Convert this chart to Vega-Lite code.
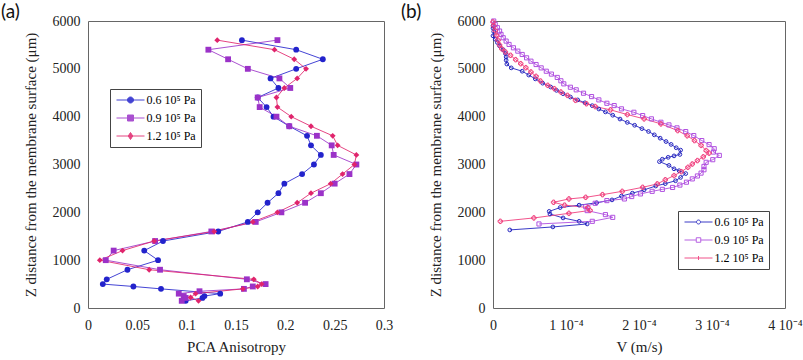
{
"$schema": "https://vega.github.io/schema/vega-lite/v6.json",
"padding": {"left": 0, "top": 2, "right": 0, "bottom": 0},
"background": "white",
"config": {
  "font": "Times New Roman, Liberation Serif, serif",
  "view": {"stroke": "#666", "strokeWidth": 1},
  "axis": {"grid": false, "domain": false, "tickSize": 0, "tickColor": "#555", "tickWidth": 1, "labelFont": "Times New Roman, Liberation Serif, serif", "labelFontSize": 14, "labelColor": "#222", "titleFont": "Times New Roman, Liberation Serif, serif", "titleFontSize": 15, "titleFontWeight": "normal", "titleColor": "#222", "labelFlush": false, "labelOverlap": false, "labelPadding": 10},
  "legend": {"labelFont": "Times New Roman, Liberation Serif, serif"},
  "title": {"font": "Lato", "fontSize": 19, "fontWeight": "normal", "color": "#111", "anchor": "start", "frame": "group"}
},
"datasets": {
"a": [
{"s":"0.6 10⁵ Pa","i":1,"x":0.156,"z":5600},{"s":"0.6 10⁵ Pa","i":2,"x":0.211,"z":5400},{"s":"0.6 10⁵ Pa","i":3,"x":0.238,"z":5200},{"s":"0.6 10⁵ Pa","i":4,"x":0.211,"z":5000},{"s":"0.6 10⁵ Pa","i":5,"x":0.185,"z":4800},{"s":"0.6 10⁵ Pa","i":6,"x":0.193,"z":4600},{"s":"0.6 10⁵ Pa","i":7,"x":0.172,"z":4400},{"s":"0.6 10⁵ Pa","i":8,"x":0.181,"z":4200},{"s":"0.6 10⁵ Pa","i":9,"x":0.188,"z":4000},{"s":"0.6 10⁵ Pa","i":10,"x":0.204,"z":3800},{"s":"0.6 10⁵ Pa","i":11,"x":0.222,"z":3600},{"s":"0.6 10⁵ Pa","i":12,"x":0.226,"z":3400},{"s":"0.6 10⁵ Pa","i":13,"x":0.236,"z":3200},{"s":"0.6 10⁵ Pa","i":14,"x":0.229,"z":3000},{"s":"0.6 10⁵ Pa","i":15,"x":0.217,"z":2800},{"s":"0.6 10⁵ Pa","i":16,"x":0.199,"z":2600},{"s":"0.6 10⁵ Pa","i":17,"x":0.193,"z":2400},{"s":"0.6 10⁵ Pa","i":18,"x":0.182,"z":2200},{"s":"0.6 10⁵ Pa","i":19,"x":0.172,"z":2000},{"s":"0.6 10⁵ Pa","i":20,"x":0.162,"z":1800},{"s":"0.6 10⁵ Pa","i":21,"x":0.132,"z":1600},{"s":"0.6 10⁵ Pa","i":22,"x":0.076,"z":1400},{"s":"0.6 10⁵ Pa","i":23,"x":0.057,"z":1200},{"s":"0.6 10⁵ Pa","i":24,"x":0.071,"z":1000},{"s":"0.6 10⁵ Pa","i":25,"x":0.040,"z":800},{"s":"0.6 10⁵ Pa","i":26,"x":0.019,"z":600},{"s":"0.6 10⁵ Pa","i":27,"x":0.015,"z":500},{"s":"0.6 10⁵ Pa","i":28,"x":0.046,"z":450},{"s":"0.6 10⁵ Pa","i":29,"x":0.074,"z":400},{"s":"0.6 10⁵ Pa","i":30,"x":0.134,"z":300},{"s":"0.6 10⁵ Pa","i":31,"x":0.118,"z":250},{"s":"0.6 10⁵ Pa","i":32,"x":0.116,"z":210},{"s":"0.6 10⁵ Pa","i":33,"x":0.099,"z":150},
{"s":"0.9 10⁵ Pa","i":1,"x":0.192,"z":5600},{"s":"0.9 10⁵ Pa","i":2,"x":0.122,"z":5400},{"s":"0.9 10⁵ Pa","i":3,"x":0.142,"z":5200},{"s":"0.9 10⁵ Pa","i":4,"x":0.162,"z":5000},{"s":"0.9 10⁵ Pa","i":5,"x":0.194,"z":4800},{"s":"0.9 10⁵ Pa","i":6,"x":0.205,"z":4600},{"s":"0.9 10⁵ Pa","i":7,"x":0.172,"z":4400},{"s":"0.9 10⁵ Pa","i":8,"x":0.174,"z":4200},{"s":"0.9 10⁵ Pa","i":9,"x":0.191,"z":4000},{"s":"0.9 10⁵ Pa","i":10,"x":0.204,"z":3800},{"s":"0.9 10⁵ Pa","i":11,"x":0.232,"z":3600},{"s":"0.9 10⁵ Pa","i":12,"x":0.247,"z":3400},{"s":"0.9 10⁵ Pa","i":13,"x":0.249,"z":3200},{"s":"0.9 10⁵ Pa","i":14,"x":0.272,"z":3000},{"s":"0.9 10⁵ Pa","i":15,"x":0.265,"z":2800},{"s":"0.9 10⁵ Pa","i":16,"x":0.250,"z":2600},{"s":"0.9 10⁵ Pa","i":17,"x":0.236,"z":2400},{"s":"0.9 10⁵ Pa","i":18,"x":0.220,"z":2200},{"s":"0.9 10⁵ Pa","i":19,"x":0.196,"z":2000},{"s":"0.9 10⁵ Pa","i":20,"x":0.170,"z":1800},{"s":"0.9 10⁵ Pa","i":21,"x":0.125,"z":1600},{"s":"0.9 10⁵ Pa","i":22,"x":0.068,"z":1400},{"s":"0.9 10⁵ Pa","i":23,"x":0.026,"z":1200},{"s":"0.9 10⁵ Pa","i":24,"x":0.018,"z":1000},{"s":"0.9 10⁵ Pa","i":25,"x":0.073,"z":800},{"s":"0.9 10⁵ Pa","i":26,"x":0.161,"z":600},{"s":"0.9 10⁵ Pa","i":27,"x":0.180,"z":500},{"s":"0.9 10⁵ Pa","i":28,"x":0.167,"z":450},{"s":"0.9 10⁵ Pa","i":29,"x":0.158,"z":400},{"s":"0.9 10⁵ Pa","i":30,"x":0.113,"z":350},{"s":"0.9 10⁵ Pa","i":31,"x":0.092,"z":300},{"s":"0.9 10⁵ Pa","i":32,"x":0.097,"z":250},{"s":"0.9 10⁵ Pa","i":33,"x":0.099,"z":210},{"s":"0.9 10⁵ Pa","i":34,"x":0.095,"z":150},
{"s":"1.2 10⁵ Pa","i":1,"x":0.131,"z":5600},{"s":"1.2 10⁵ Pa","i":2,"x":0.189,"z":5400},{"s":"1.2 10⁵ Pa","i":3,"x":0.209,"z":5200},{"s":"1.2 10⁵ Pa","i":4,"x":0.221,"z":5000},{"s":"1.2 10⁵ Pa","i":5,"x":0.212,"z":4800},{"s":"1.2 10⁵ Pa","i":6,"x":0.199,"z":4600},{"s":"1.2 10⁵ Pa","i":7,"x":0.191,"z":4400},{"s":"1.2 10⁵ Pa","i":8,"x":0.192,"z":4200},{"s":"1.2 10⁵ Pa","i":9,"x":0.206,"z":4000},{"s":"1.2 10⁵ Pa","i":10,"x":0.226,"z":3800},{"s":"1.2 10⁵ Pa","i":11,"x":0.248,"z":3600},{"s":"1.2 10⁵ Pa","i":12,"x":0.253,"z":3400},{"s":"1.2 10⁵ Pa","i":13,"x":0.272,"z":3200},{"s":"1.2 10⁵ Pa","i":14,"x":0.270,"z":3000},{"s":"1.2 10⁵ Pa","i":15,"x":0.258,"z":2800},{"s":"1.2 10⁵ Pa","i":16,"x":0.246,"z":2600},{"s":"1.2 10⁵ Pa","i":17,"x":0.226,"z":2400},{"s":"1.2 10⁵ Pa","i":18,"x":0.212,"z":2200},{"s":"1.2 10⁵ Pa","i":19,"x":0.192,"z":2000},{"s":"1.2 10⁵ Pa","i":20,"x":0.167,"z":1800},{"s":"1.2 10⁵ Pa","i":21,"x":0.128,"z":1600},{"s":"1.2 10⁵ Pa","i":22,"x":0.067,"z":1400},{"s":"1.2 10⁵ Pa","i":23,"x":0.035,"z":1200},{"s":"1.2 10⁵ Pa","i":24,"x":0.012,"z":1000},{"s":"1.2 10⁵ Pa","i":25,"x":0.062,"z":800},{"s":"1.2 10⁵ Pa","i":26,"x":0.168,"z":600},{"s":"1.2 10⁵ Pa","i":27,"x":0.176,"z":500},{"s":"1.2 10⁵ Pa","i":28,"x":0.172,"z":450},{"s":"1.2 10⁵ Pa","i":29,"x":0.157,"z":400},{"s":"1.2 10⁵ Pa","i":30,"x":0.109,"z":300},{"s":"1.2 10⁵ Pa","i":31,"x":0.104,"z":220},{"s":"1.2 10⁵ Pa","i":32,"x":0.112,"z":150}
],
"b": [
{"s":"0.6 10⁵ Pa","i":1,"x":0.0,"z":5900},{"s":"0.6 10⁵ Pa","i":2,"x":0.0,"z":5850},{"s":"0.6 10⁵ Pa","i":3,"x":1e-6,"z":5780},{"s":"0.6 10⁵ Pa","i":4,"x":0.0,"z":5690},{"s":"0.6 10⁵ Pa","i":5,"x":3e-6,"z":5620},{"s":"0.6 10⁵ Pa","i":6,"x":6e-6,"z":5550},{"s":"0.6 10⁵ Pa","i":7,"x":9e-6,"z":5480},{"s":"0.6 10⁵ Pa","i":8,"x":1.4e-5,"z":5400},{"s":"0.6 10⁵ Pa","i":9,"x":1.7e-5,"z":5320},{"s":"0.6 10⁵ Pa","i":10,"x":1.8e-5,"z":5250},{"s":"0.6 10⁵ Pa","i":11,"x":1.8e-5,"z":5180},{"s":"0.6 10⁵ Pa","i":12,"x":1.9e-5,"z":5100},{"s":"0.6 10⁵ Pa","i":13,"x":2.5e-5,"z":5020},{"s":"0.6 10⁵ Pa","i":14,"x":4.0e-5,"z":4950},{"s":"0.6 10⁵ Pa","i":15,"x":4.9e-5,"z":4870},{"s":"0.6 10⁵ Pa","i":16,"x":5.8e-5,"z":4790},{"s":"0.6 10⁵ Pa","i":17,"x":6.8e-5,"z":4700},{"s":"0.6 10⁵ Pa","i":18,"x":7.9e-5,"z":4620},{"s":"0.6 10⁵ Pa","i":19,"x":8.7e-5,"z":4550},{"s":"0.6 10⁵ Pa","i":20,"x":9.6e-5,"z":4480},{"s":"0.6 10⁵ Pa","i":21,"x":1.06e-4,"z":4410},{"s":"0.6 10⁵ Pa","i":22,"x":1.16e-4,"z":4350},{"s":"0.6 10⁵ Pa","i":23,"x":1.26e-4,"z":4290},{"s":"0.6 10⁵ Pa","i":24,"x":1.36e-4,"z":4230},{"s":"0.6 10⁵ Pa","i":25,"x":1.45e-4,"z":4160},{"s":"0.6 10⁵ Pa","i":26,"x":1.54e-4,"z":4100},{"s":"0.6 10⁵ Pa","i":27,"x":1.64e-4,"z":4030},{"s":"0.6 10⁵ Pa","i":28,"x":1.74e-4,"z":3950},{"s":"0.6 10⁵ Pa","i":29,"x":1.84e-4,"z":3880},{"s":"0.6 10⁵ Pa","i":30,"x":1.94e-4,"z":3820},{"s":"0.6 10⁵ Pa","i":31,"x":2.04e-4,"z":3750},{"s":"0.6 10⁵ Pa","i":32,"x":2.13e-4,"z":3690},{"s":"0.6 10⁵ Pa","i":33,"x":2.21e-4,"z":3620},{"s":"0.6 10⁵ Pa","i":34,"x":2.29e-4,"z":3550},{"s":"0.6 10⁵ Pa","i":35,"x":2.37e-4,"z":3480},{"s":"0.6 10⁵ Pa","i":36,"x":2.44e-4,"z":3420},{"s":"0.6 10⁵ Pa","i":37,"x":2.51e-4,"z":3350},{"s":"0.6 10⁵ Pa","i":38,"x":2.57e-4,"z":3300},{"s":"0.6 10⁵ Pa","i":39,"x":2.56e-4,"z":3210},{"s":"0.6 10⁵ Pa","i":40,"x":2.48e-4,"z":3180},{"s":"0.6 10⁵ Pa","i":41,"x":2.40e-4,"z":3150},{"s":"0.6 10⁵ Pa","i":42,"x":2.32e-4,"z":3110},{"s":"0.6 10⁵ Pa","i":43,"x":2.28e-4,"z":3060},{"s":"0.6 10⁵ Pa","i":44,"x":2.41e-4,"z":2980},{"s":"0.6 10⁵ Pa","i":45,"x":2.48e-4,"z":2910},{"s":"0.6 10⁵ Pa","i":46,"x":2.55e-4,"z":2870},{"s":"0.6 10⁵ Pa","i":47,"x":2.64e-4,"z":2810},{"s":"0.6 10⁵ Pa","i":48,"x":2.57e-4,"z":2730},{"s":"0.6 10⁵ Pa","i":49,"x":2.50e-4,"z":2660},{"s":"0.6 10⁵ Pa","i":50,"x":2.36e-4,"z":2600},{"s":"0.6 10⁵ Pa","i":51,"x":2.23e-4,"z":2550},{"s":"0.6 10⁵ Pa","i":52,"x":2.07e-4,"z":2470},{"s":"0.6 10⁵ Pa","i":53,"x":1.91e-4,"z":2400},{"s":"0.6 10⁵ Pa","i":54,"x":1.76e-4,"z":2340},{"s":"0.6 10⁵ Pa","i":55,"x":1.63e-4,"z":2260},{"s":"0.6 10⁵ Pa","i":56,"x":1.42e-4,"z":2200},{"s":"0.6 10⁵ Pa","i":57,"x":1.18e-4,"z":2150},{"s":"0.6 10⁵ Pa","i":58,"x":9.2e-5,"z":2100},{"s":"0.6 10⁵ Pa","i":59,"x":7.7e-5,"z":2020},{"s":"0.6 10⁵ Pa","i":60,"x":7.8e-5,"z":1966},{"s":"0.6 10⁵ Pa","i":61,"x":9.6e-5,"z":1883},{"s":"0.6 10⁵ Pa","i":62,"x":1.18e-4,"z":1812},{"s":"0.6 10⁵ Pa","i":63,"x":1.29e-4,"z":1757},{"s":"0.6 10⁵ Pa","i":64,"x":8.2e-5,"z":1695},{"s":"0.6 10⁵ Pa","i":65,"x":2.3e-5,"z":1632},
{"s":"0.9 10⁵ Pa","i":1,"x":1e-6,"z":6000},{"s":"0.9 10⁵ Pa","i":2,"x":3e-6,"z":5930},{"s":"0.9 10⁵ Pa","i":3,"x":6e-6,"z":5860},{"s":"0.9 10⁵ Pa","i":4,"x":9e-6,"z":5790},{"s":"0.9 10⁵ Pa","i":5,"x":1.1e-5,"z":5720},{"s":"0.9 10⁵ Pa","i":6,"x":1.4e-5,"z":5650},{"s":"0.9 10⁵ Pa","i":7,"x":1.8e-5,"z":5580},{"s":"0.9 10⁵ Pa","i":8,"x":2.2e-5,"z":5510},{"s":"0.9 10⁵ Pa","i":9,"x":2.8e-5,"z":5440},{"s":"0.9 10⁵ Pa","i":10,"x":3.4e-5,"z":5370},{"s":"0.9 10⁵ Pa","i":11,"x":4.0e-5,"z":5300},{"s":"0.9 10⁵ Pa","i":12,"x":4.6e-5,"z":5230},{"s":"0.9 10⁵ Pa","i":13,"x":5.2e-5,"z":5160},{"s":"0.9 10⁵ Pa","i":14,"x":5.9e-5,"z":5090},{"s":"0.9 10⁵ Pa","i":15,"x":6.6e-5,"z":5020},{"s":"0.9 10⁵ Pa","i":16,"x":7.3e-5,"z":4950},{"s":"0.9 10⁵ Pa","i":17,"x":8.0e-5,"z":4890},{"s":"0.9 10⁵ Pa","i":18,"x":8.8e-5,"z":4820},{"s":"0.9 10⁵ Pa","i":19,"x":9.3e-5,"z":4750},{"s":"0.9 10⁵ Pa","i":20,"x":9.7e-5,"z":4686},{"s":"0.9 10⁵ Pa","i":21,"x":1.06e-4,"z":4615},{"s":"0.9 10⁵ Pa","i":22,"x":1.14e-4,"z":4561},{"s":"0.9 10⁵ Pa","i":23,"x":1.24e-4,"z":4490},{"s":"0.9 10⁵ Pa","i":24,"x":1.35e-4,"z":4420},{"s":"0.9 10⁵ Pa","i":25,"x":1.45e-4,"z":4351},{"s":"0.9 10⁵ Pa","i":26,"x":1.56e-4,"z":4280},{"s":"0.9 10⁵ Pa","i":27,"x":1.66e-4,"z":4232},{"s":"0.9 10⁵ Pa","i":28,"x":1.76e-4,"z":4163},{"s":"0.9 10⁵ Pa","i":29,"x":1.93e-4,"z":4092},{"s":"0.9 10⁵ Pa","i":30,"x":2.05e-4,"z":4023},{"s":"0.9 10⁵ Pa","i":31,"x":2.17e-4,"z":3954},{"s":"0.9 10⁵ Pa","i":32,"x":2.30e-4,"z":3883},{"s":"0.9 10⁵ Pa","i":33,"x":2.41e-4,"z":3828},{"s":"0.9 10⁵ Pa","i":34,"x":2.52e-4,"z":3766},{"s":"0.9 10⁵ Pa","i":35,"x":2.64e-4,"z":3688},{"s":"0.9 10⁵ Pa","i":36,"x":2.75e-4,"z":3605},{"s":"0.9 10⁵ Pa","i":37,"x":2.86e-4,"z":3500},{"s":"0.9 10⁵ Pa","i":38,"x":2.96e-4,"z":3416},{"s":"0.9 10⁵ Pa","i":39,"x":3.03e-4,"z":3330},{"s":"0.9 10⁵ Pa","i":40,"x":3.02e-4,"z":3260},{"s":"0.9 10⁵ Pa","i":41,"x":3.10e-4,"z":3190},{"s":"0.9 10⁵ Pa","i":42,"x":3.01e-4,"z":3100},{"s":"0.9 10⁵ Pa","i":43,"x":2.92e-4,"z":3046},{"s":"0.9 10⁵ Pa","i":44,"x":2.89e-4,"z":2960},{"s":"0.9 10⁵ Pa","i":45,"x":2.89e-4,"z":2890},{"s":"0.9 10⁵ Pa","i":46,"x":2.85e-4,"z":2820},{"s":"0.9 10⁵ Pa","i":47,"x":2.80e-4,"z":2760},{"s":"0.9 10⁵ Pa","i":48,"x":2.73e-4,"z":2699},{"s":"0.9 10⁵ Pa","i":49,"x":2.65e-4,"z":2630},{"s":"0.9 10⁵ Pa","i":50,"x":2.56e-4,"z":2570},{"s":"0.9 10⁵ Pa","i":51,"x":2.46e-4,"z":2520},{"s":"0.9 10⁵ Pa","i":52,"x":2.32e-4,"z":2480},{"s":"0.9 10⁵ Pa","i":53,"x":2.18e-4,"z":2439},{"s":"0.9 10⁵ Pa","i":54,"x":2.02e-4,"z":2385},{"s":"0.9 10⁵ Pa","i":55,"x":1.90e-4,"z":2330},{"s":"0.9 10⁵ Pa","i":56,"x":1.80e-4,"z":2280},{"s":"0.9 10⁵ Pa","i":57,"x":1.56e-4,"z":2245},{"s":"0.9 10⁵ Pa","i":58,"x":1.40e-4,"z":2189},{"s":"0.9 10⁵ Pa","i":59,"x":1.27e-4,"z":2119},{"s":"0.9 10⁵ Pa","i":60,"x":1.29e-4,"z":2036},{"s":"0.9 10⁵ Pa","i":61,"x":1.54e-4,"z":1952},{"s":"0.9 10⁵ Pa","i":62,"x":1.64e-4,"z":1895},{"s":"0.9 10⁵ Pa","i":63,"x":1.36e-4,"z":1812},{"s":"0.9 10⁵ Pa","i":64,"x":6.3e-5,"z":1757},
{"s":"1.2 10⁵ Pa","i":1,"x":0.0,"z":5980},{"s":"1.2 10⁵ Pa","i":2,"x":1e-6,"z":5900},{"s":"1.2 10⁵ Pa","i":3,"x":3e-6,"z":5800},{"s":"1.2 10⁵ Pa","i":4,"x":5e-6,"z":5700},{"s":"1.2 10⁵ Pa","i":5,"x":7e-6,"z":5600},{"s":"1.2 10⁵ Pa","i":6,"x":9e-6,"z":5500},{"s":"1.2 10⁵ Pa","i":7,"x":1.2e-5,"z":5418},{"s":"1.2 10⁵ Pa","i":8,"x":1.7e-5,"z":5352},{"s":"1.2 10⁵ Pa","i":9,"x":2.4e-5,"z":5283},{"s":"1.2 10⁵ Pa","i":10,"x":3.1e-5,"z":5192},{"s":"1.2 10⁵ Pa","i":11,"x":3.8e-5,"z":5108},{"s":"1.2 10⁵ Pa","i":12,"x":4.5e-5,"z":5024},{"s":"1.2 10⁵ Pa","i":13,"x":5.2e-5,"z":4934},{"s":"1.2 10⁵ Pa","i":14,"x":5.9e-5,"z":4843},{"s":"1.2 10⁵ Pa","i":15,"x":6.5e-5,"z":4745},{"s":"1.2 10⁵ Pa","i":16,"x":7.5e-5,"z":4655},{"s":"1.2 10⁵ Pa","i":17,"x":8.4e-5,"z":4585},{"s":"1.2 10⁵ Pa","i":18,"x":9.3e-5,"z":4515},{"s":"1.2 10⁵ Pa","i":19,"x":1.02e-4,"z":4445},{"s":"1.2 10⁵ Pa","i":20,"x":1.13e-4,"z":4341},{"s":"1.2 10⁵ Pa","i":21,"x":1.28e-4,"z":4270},{"s":"1.2 10⁵ Pa","i":22,"x":1.40e-4,"z":4211},{"s":"1.2 10⁵ Pa","i":23,"x":1.61e-4,"z":4142},{"s":"1.2 10⁵ Pa","i":24,"x":1.84e-4,"z":4044},{"s":"1.2 10⁵ Pa","i":25,"x":2.07e-4,"z":3954},{"s":"1.2 10⁵ Pa","i":26,"x":2.30e-4,"z":3849},{"s":"1.2 10⁵ Pa","i":27,"x":2.53e-4,"z":3709},{"s":"1.2 10⁵ Pa","i":28,"x":2.66e-4,"z":3600},{"s":"1.2 10⁵ Pa","i":29,"x":2.76e-4,"z":3500},{"s":"1.2 10⁵ Pa","i":30,"x":2.85e-4,"z":3400},{"s":"1.2 10⁵ Pa","i":31,"x":2.92e-4,"z":3291},{"s":"1.2 10⁵ Pa","i":32,"x":2.96e-4,"z":3238},{"s":"1.2 10⁵ Pa","i":33,"x":2.88e-4,"z":3160},{"s":"1.2 10⁵ Pa","i":34,"x":2.80e-4,"z":3082},{"s":"1.2 10⁵ Pa","i":35,"x":2.73e-4,"z":3010},{"s":"1.2 10⁵ Pa","i":36,"x":2.67e-4,"z":2941},{"s":"1.2 10⁵ Pa","i":37,"x":2.58e-4,"z":2850},{"s":"1.2 10⁵ Pa","i":38,"x":2.48e-4,"z":2768},{"s":"1.2 10⁵ Pa","i":39,"x":2.36e-4,"z":2680},{"s":"1.2 10⁵ Pa","i":40,"x":2.25e-4,"z":2594},{"s":"1.2 10⁵ Pa","i":41,"x":2.05e-4,"z":2523},{"s":"1.2 10⁵ Pa","i":42,"x":1.77e-4,"z":2439},{"s":"1.2 10⁵ Pa","i":43,"x":1.50e-4,"z":2370},{"s":"1.2 10⁵ Pa","i":44,"x":1.27e-4,"z":2314},{"s":"1.2 10⁵ Pa","i":45,"x":1.04e-4,"z":2280},{"s":"1.2 10⁵ Pa","i":46,"x":8.3e-5,"z":2210},{"s":"1.2 10⁵ Pa","i":47,"x":9.8e-5,"z":2150},{"s":"1.2 10⁵ Pa","i":48,"x":1.30e-4,"z":2100},{"s":"1.2 10⁵ Pa","i":49,"x":1.33e-4,"z":2040},{"s":"1.2 10⁵ Pa","i":50,"x":1.04e-4,"z":1979},{"s":"1.2 10⁵ Pa","i":51,"x":5.6e-5,"z":1883},{"s":"1.2 10⁵ Pa","i":52,"x":1.0e-5,"z":1812}
]
},
"hconcat": [
{
  "width": 296, "height": 287,
  "title": {"text": "(a)", "dx": -87, "offset": -8},
  "data": {"name": "a"},
  "resolve": {"axis": {"x": "independent", "y": "independent"}},
  "layer": [
    {
      "mark": {"type": "line", "strokeWidth": 1, "opacity": 0.85},
      "encoding": {
        "x": {"field": "x", "type": "quantitative", "scale": {"domain": [0, 0.3], "nice": false},
              "axis": {"orient": "bottom", "title": "PCA Anisotropy", "titlePadding": 7, "values": [0,0.01,0.02,0.03,0.04,0.05,0.06,0.07,0.08,0.09,0.1,0.11,0.12,0.13,0.14,0.15,0.16,0.17,0.18,0.19,0.2,0.21,0.22,0.23,0.24,0.25,0.26,0.27,0.28,0.29,0.3],
                       "labelExpr": "round(datum.value*100) % 5 == 0 ? '' + round(datum.value*100)/100 : ''",
                       "encode": {"ticks": {"y2": {"value": {"signal": "round(datum.value*100) % 5 == 0 ? -6 : -3"}}}}}},
        "y": {"field": "z", "type": "quantitative", "scale": {"domain": [0, 6000], "nice": false},
              "axis": {"orient": "left", "title": "Z distance from the membrane surface (μm)", "titlePadding": 14, "labelPadding": 8, "values": [0,200,400,600,800,1000,1200,1400,1600,1800,2000,2200,2400,2600,2800,3000,3200,3400,3600,3800,4000,4200,4400,4600,4800,5000,5200,5400,5600,5800,6000],
                       "labelExpr": "datum.value % 1000 == 0 ? '' + datum.value : ''",
                       "encode": {"ticks": {"x2": {"value": {"signal": "datum.value % 1000 == 0 ? 6 : 3"}}}}}},
        "order": {"field": "i", "type": "quantitative"},
        "color": {"field": "s", "type": "nominal", "scale": {"domain": ["0.6 10⁵ Pa", "0.9 10⁵ Pa", "1.2 10⁵ Pa"], "range": ["#2323cc", "#9b32c8", "#e0246c"]},
                  "legend": {"orient": "none", "legendX": 22, "legendY": 68, "title": null, "padding": 5, "strokeColor": "#444", "fillColor": "white", "labelFontSize": 12, "symbolSize": 100,
                             "symbolType": {"expr": "datum.value === '0.6 10⁵ Pa' ? 'M-2.8,0H2.8M0.6,0A0.6,0.6,0,1,1,-0.6,0A0.6,0.6,0,1,1,0.6,0Z' : datum.value === '0.9 10⁵ Pa' ? 'M-2.8,0H2.8M-0.6,-0.6H0.6V0.6H-0.6Z' : 'M-2.8,0H2.8M0,-0.7L0.45,0L0,0.7L-0.45,0Z'"},
                             "symbolStrokeWidth": 1, "symbolOffset": 9.5, "labelOffset": 10, "rowPadding": 6,
                             "encode": {
                               "symbols": {
                                 "fill": {"value": {"signal": "datum.value === '0.6 10⁵ Pa' ? '#2323cc' : datum.value === '0.9 10⁵ Pa' ? '#9b32c8' : '#e0246c'"}},
                                 "stroke": {"value": {"signal": "datum.value === '0.6 10⁵ Pa' ? '#2323cc' : datum.value === '0.9 10⁵ Pa' ? '#9b32c8' : '#e0246c'"}},
                                 "strokeWidth": {"value": 1}, "opacity": {"value": 1}, "fillOpacity": {"value": 1}},
                               "labels": {"fill": {"value": {"signal": "datum.value === '0.6 10⁵ Pa' ? '#2323cc' : datum.value === '0.9 10⁵ Pa' ? '#9b32c8' : '#e0246c'"}}}
                             }}}
      }
    },
    {
      "mark": {"type": "point", "filled": true, "opacity": 1, "size": 34},
      "encoding": {
        "x": {"field": "x", "type": "quantitative", "axis": {"orient": "top", "title": null, "labels": false, "values": [0,0.01,0.02,0.03,0.04,0.05,0.06,0.07,0.08,0.09,0.1,0.11,0.12,0.13,0.14,0.15,0.16,0.17,0.18,0.19,0.2,0.21,0.22,0.23,0.24,0.25,0.26,0.27,0.28,0.29,0.3],
                       "encode": {"ticks": {"y2": {"value": {"signal": "round(datum.value*100) % 5 == 0 ? 6 : 3"}}}}}},
        "y": {"field": "z", "type": "quantitative", "axis": {"orient": "right", "title": null, "labels": false, "values": [0,200,400,600,800,1000,1200,1400,1600,1800,2000,2200,2400,2600,2800,3000,3200,3400,3600,3800,4000,4200,4400,4600,4800,5000,5200,5400,5600,5800,6000],
                       "encode": {"ticks": {"x2": {"value": {"signal": "datum.value % 1000 == 0 ? -6 : -3"}}}}}},
        "color": {"field": "s", "type": "nominal", "legend": null},
        "shape": {"field": "s", "type": "nominal", "scale": {"range": ["circle", "square", "diamond"]}, "legend": null}
      }
    }
  ]
},
{
  "width": 292, "height": 287,
  "title": {"text": "(b)", "dx": -92, "offset": -8},
  "data": {"name": "b"},
  "resolve": {"axis": {"x": "independent", "y": "independent"}},
  "layer": [
    {
      "mark": {"type": "line", "strokeWidth": 1, "opacity": 0.9},
      "encoding": {
        "x": {"field": "x", "type": "quantitative", "scale": {"domain": [0, 0.0004], "nice": false},
              "axis": {"orient": "bottom", "title": "V (m/s)", "titlePadding": 7, "values": [0,0.00002,0.00004,0.00006,0.00008,0.0001,0.00012,0.00014,0.00016,0.00018,0.0002,0.00022,0.00024,0.00026,0.00028,0.0003,0.00032,0.00034,0.00036,0.00038,0.0004],
                       "labelExpr": "round(datum.value*100000) % 10 == 0 ? (round(datum.value*10000) == 0 ? '0' : round(datum.value*10000) + ' 10⁻⁴') : ''",
                       "encode": {"ticks": {"y2": {"value": {"signal": "round(datum.value*100000) % 10 == 0 ? -6 : -3"}}}}}},
        "y": {"field": "z", "type": "quantitative", "scale": {"domain": [0, 6000], "nice": false},
              "axis": {"orient": "left", "title": "Z distance from the membrane surface (μm)", "titlePadding": 14, "labelPadding": 8, "values": [0,200,400,600,800,1000,1200,1400,1600,1800,2000,2200,2400,2600,2800,3000,3200,3400,3600,3800,4000,4200,4400,4600,4800,5000,5200,5400,5600,5800,6000],
                       "labelExpr": "datum.value % 1000 == 0 ? '' + datum.value : ''",
                       "encode": {"ticks": {"x2": {"value": {"signal": "datum.value % 1000 == 0 ? 6 : 3"}}}}}},
        "order": {"field": "i", "type": "quantitative"},
        "color": {"field": "s", "type": "nominal", "scale": {"domain": ["0.6 10⁵ Pa", "0.9 10⁵ Pa", "1.2 10⁵ Pa"], "range": ["#2626c0", "#b050e0", "#f0407e"]},
                  "legend": {"orient": "none", "legendX": 185, "legendY": 190, "title": null, "padding": 5, "strokeColor": "#444", "fillColor": "white", "labelFontSize": 12, "symbolSize": 100,
                             "symbolType": {"expr": "datum.value === '0.6 10⁵ Pa' ? 'M-2.8,0H-0.4M0.4,0H2.8M0.4,0A0.4,0.4,0,1,1,-0.4,0A0.4,0.4,0,1,1,0.4,0Z' : datum.value === '0.9 10⁵ Pa' ? 'M-2.8,0H-0.45M0.45,0H2.8M-0.45,-0.45H0.45V0.45H-0.45Z' : 'M-2.8,0H2.8M0,-0.4V0.4'"},
                             "symbolStrokeWidth": 1, "symbolOffset": 9.5, "labelOffset": 10, "rowPadding": 6,
                             "encode": {
                               "symbols": {
                                 "fill": {"value": "transparent"},
                                 "stroke": {"value": {"signal": "datum.value === '0.6 10⁵ Pa' ? '#2626c0' : datum.value === '0.9 10⁵ Pa' ? '#b050e0' : '#f0407e'"}},
                                 "strokeWidth": {"value": 1}, "opacity": {"value": 1}},
                               "labels": {"fill": {"value": {"signal": "datum.value === '0.6 10⁵ Pa' ? '#2626c0' : datum.value === '0.9 10⁵ Pa' ? '#b050e0' : '#f0407e'"}}}
                             }}}
      }
    },
    {
      "mark": {"type": "point", "filled": false, "opacity": 1, "strokeWidth": 1},
      "encoding": {
        "x": {"field": "x", "type": "quantitative", "axis": {"orient": "top", "title": null, "labels": false, "values": [0,0.00002,0.00004,0.00006,0.00008,0.0001,0.00012,0.00014,0.00016,0.00018,0.0002,0.00022,0.00024,0.00026,0.00028,0.0003,0.00032,0.00034,0.00036,0.00038,0.0004],
                       "encode": {"ticks": {"y2": {"value": {"signal": "round(datum.value*100000) % 10 == 0 ? 6 : 3"}}}}}},
        "y": {"field": "z", "type": "quantitative", "axis": {"orient": "right", "title": null, "labels": false, "values": [0,200,400,600,800,1000,1200,1400,1600,1800,2000,2200,2400,2600,2800,3000,3200,3400,3600,3800,4000,4200,4400,4600,4800,5000,5200,5400,5600,5800,6000],
                       "encode": {"ticks": {"x2": {"value": {"signal": "datum.value % 1000 == 0 ? -6 : -3"}}}}}},
        "color": {"field": "s", "type": "nominal", "legend": null},
        "shape": {"field": "s", "type": "nominal", "scale": {"range": ["circle", "square", "cross"]}, "legend": null},
        "size": {"field": "s", "type": "nominal", "scale": {"range": [14, 20, 10]}, "legend": null}
      }
    }
  ]
}
],
"spacing": 6,
"resolve": {"scale": {"color": "independent", "shape": "independent", "size": "independent", "x": "independent", "y": "independent"}, "legend": {"color": "independent"}}
}
